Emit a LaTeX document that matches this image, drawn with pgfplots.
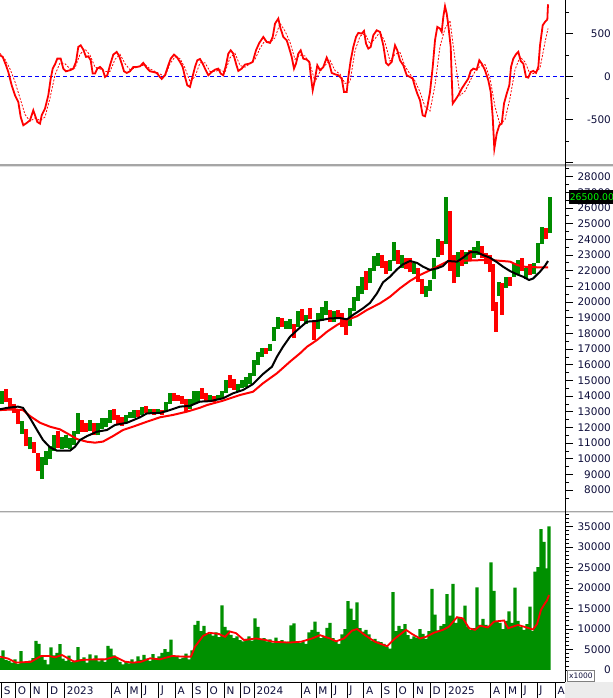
\documentclass[border=0pt]{standalone}
\usepackage{pgfplots}
\pgfplotsset{compat=1.18}
\usepackage{pgfplotstable}
\usepackage{fontspec}
\setmainfont{DejaVu Sans}
\definecolor{cgreen}{RGB}{0,140,0}
\definecolor{vgreen}{RGB}{0,144,0}
\definecolor{cred}{RGB}{255,0,0}
\definecolor{lab}{RGB}{15,15,60}
\definecolor{lime}{RGB}{0,255,0}

\pgfplotstableread{
x lo hi
2 13500 14300
22 11600 12400
30 10600 11400
42 8700 10100
46 9600 10500
50 10000 10800
54 10500 11500
62 10600 11400
66 10700 11500
70 10600 11300
74 10900 11800
78 11600 12900
90 11800 12500
98 11500 12300
102 11900 12600
106 12000 12600
110 12300 13100
126 12300 12800
130 12600 13000
134 12600 13100
142 12800 13300
150 12900 13200
158 12900 13200
166 13000 13600
170 13500 14200
190 13200 13800
194 13500 14300
198 13600 14300
210 13700 14100
218 13800 14100
222 13800 14300
226 14200 15000
238 14300 14800
242 14500 15000
246 14600 15200
250 14800 15500
254 15300 16300
258 16000 16800
262 16500 17100
270 16900 17300
274 17500 18400
278 18300 19050
286 18300 18800
290 18300 18900
298 18400 19400
306 18600 19200
318 18300 19300
322 18800 19700
326 19200 20100
334 18700 19400
350 18500 19600
354 19400 20300
358 20100 21000
362 20500 21600
370 21200 22200
374 22000 22950
378 22300 23100
390 22000 22700
394 22600 23850
402 22200 23000
414 21800 22500
426 20300 21000
430 20700 21400
434 21500 22800
438 22900 24000
446 23700 26700
458 21600 23200
466 22400 23200
474 22800 23500
478 23000 23900
499 20400 21300
506 20900 21600
514 21600 22400
518 21800 22700
526 21500 22200
534 21800 22500
538 22500 23800
542 23700 24800
550 24400 26700
}\greenc

\pgfplotstableread{
x lo hi
6 13600 14450
10 13200 13900
14 12900 13500
18 12200 13100
26 10800 11900
34 10400 11100
38 9200 10400
58 10700 11800
82 11700 12500
86 11700 12300
94 11500 12300
114 12500 13200
118 12200 12800
122 12100 12700
138 12700 13100
146 12900 13400
154 12800 13200
162 12800 13100
174 13700 14200
178 13700 14100
182 13500 14000
186 13000 13800
202 13800 14500
206 13700 14200
214 13600 14000
230 14500 15350
234 14400 15100
266 16700 17100
282 18400 19000
294 17700 18600
302 18800 19550
310 18900 19600
314 17600 18700
330 18700 19500
338 18900 19500
342 18400 19300
346 17900 18800
366 20800 22000
382 22200 23000
386 21800 22600
398 22400 23300
406 22100 22800
410 21900 22800
418 21300 22200
422 20500 21500
442 23000 23900
450 22000 25800
454 21200 23000
462 22300 23300
470 22600 23300
482 22800 23600
486 22400 23100
490 21900 23000
493 19400 22400
496 18100 20000
502 19200 21200
510 21000 21600
522 22000 22800
530 21700 22400
546 24000 24700
}\redc

\pgfplotstableread{
x y
0 13160
7 13250
18 13330
23 13250
30 12600
37 11840
43 11200
50 10730
57 10520
70 10520
75 10770
80 11200
87 11450
97 11730
107 11840
115 12160
127 12300
140 12650
147 12900
160 12930
167 13050
180 13330
190 13380
200 13650
210 13680
223 13860
233 14180
243 14390
253 14770
263 15410
272 15880
277 16520
283 17150
290 17790
298 18260
307 18750
317 18800
330 18960
340 18980
347 18900
353 19180
363 19600
370 19950
377 20560
383 21260
390 21620
397 22090
403 22410
410 22620
417 22500
423 22260
430 22050
437 22150
443 22300
448 22620
457 22580
463 22830
470 23180
477 23180
483 23000
490 22830
497 22540
503 22260
510 21980
517 21770
523 21620
529 21410
533 21500
540 21940
545 22320
548 22620
}\maA

\pgfplotstableread{
x y
0 13110
13 13150
23 13110
30 12730
40 12300
50 12050
60 11880
70 11520
77 11260
87 11090
95 11030
103 11100
113 11450
123 11840
133 12050
147 12370
160 12650
173 12800
187 13010
200 13260
207 13430
223 13710
240 14070
253 14280
263 14820
277 15460
290 16200
300 16730
307 17150
317 17580
327 18110
337 18540
347 18860
357 19100
367 19500
380 19920
390 20340
400 20880
410 21350
420 21730
427 21940
437 22260
447 22580
457 22620
470 22650
483 22680
490 22700
497 22650
510 22580
517 22370
523 22260
537 22220
548 22220
}\maB

\pgfplotstableread{
x y
0 248
2.7 229
6 132
8.3 54
11.7 -101
15 -217
18.3 -295
20.7 -469
23.3 -566
26.7 -539
30 -508
33.3 -392
35 -450
37.3 -527
40 -547
41.7 -450
45 -372
48.3 -217
50.7 -23
52.7 93
55 143
57.3 209
60.7 209
63.3 93
66 62
70 74
73.3 93
76 171
78.3 345
80.7 364
83.3 314
86 229
88.3 236
90.7 190
92.7 35
95 35
97.3 93
100 112
102.7 81
105 -4
107.3 16
110 132
113.3 256
116.7 287
119.3 236
121.7 151
124 62
126.7 43
130 62
133.3 112
136.7 112
140 120
143.3 159
146.7 101
150 62
153.3 54
156.7 43
159.3 4
161.7 -27
165 16
168.3 132
170.7 209
174 256
176.7 229
180 171
182.7 112
185 -4
187.3 -101
190 -120
192.3 -12
195 112
197.3 190
200 205
202.7 151
205 93
208.3 16
211.7 54
215 81
218.3 93
220.7 35
223.3 16
226 132
228.3 267
230.7 306
233.3 267
236 151
238.3 66
241.7 93
245 140
249.3 151
252.7 171
256 306
259.3 392
263.3 461
266.7 403
270 392
272.7 461
275 616
278.3 675
280.5 560
281.7 520
283.3 461
286.7 423
289.3 326
291.7 229
294 93
296 151
298.3 267
300.7 306
303.3 209
306.7 198
309.3 171
310.7 16
312.7 -159
315 -23
317.3 132
320 74
323.3 112
326.7 221
329.3 151
331.7 43
335 27
338.3 16
341.7 -23
344 -178
346.7 -178
348.3 -4
350.7 190
353.3 345
356 461
358.3 508
361.7 500
364 531
366 384
368.3 326
370.7 345
373.3 481
376.7 539
380 520
383.3 364
386 159
388.3 132
391.7 171
395 364
397.3 306
400 190
403.3 132
406.7 16
410 -4
412.7 -23
415 -120
417.3 -198
420 -275
422.7 -450
425 -461
427.3 -353
430 -178
432.7 112
435 423
437.3 578
440 558
441.7 520
443.3 694
445 818
446.7 733
448.3 597
450.7 345
451.7 -4
452.7 -314
455 -275
458.3 -217
461.7 -140
465 -81
468.3 -23
470.7 66
473.3 93
476.7 81
479.3 190
481.7 151
485 74
488.3 -43
490.7 -178
492.7 -469
494.3 -837
496.7 -663
499.3 -566
501.7 -547
504 -314
506.7 -198
509.3 -101
511 112
513.3 209
516 260
518.3 287
520.7 182
523.3 151
526 -4
528.3 -12
530.7 54
533.3 66
536 43
538.3 112
540 364
542.7 597
545 636
547.3 663
548 841
}\macd

\pgfplotstableread{
x y
0 270
5 200
10 90
15 -60
20 -250
25 -440
30 -520
35 -480
40 -510
45 -470
50 -250
55 20
60 160
65 150
70 90
75 100
80 260
85 320
90 250
95 110
100 90
105 60
110 60
115 200
120 260
125 150
130 80
135 100
140 120
145 140
150 90
155 60
160 30
165 0
170 150
175 230
180 210
185 100
190 -60
195 0
200 160
205 160
210 60
215 60
220 80
225 50
230 220
235 270
240 130
245 110
250 150
255 200
260 330
265 420
270 400
275 450
280 620
285 530
290 400
295 200
300 250
305 240
310 150
315 -60
320 60
325 130
330 190
335 70
340 30
345 -80
350 -60
355 300
360 470
365 500
370 380
375 440
380 520
385 400
390 180
395 260
400 280
405 120
410 30
415 -50
420 -180
425 -350
430 -400
435 -100
440 350
445 560
450 650
455 200
460 -220
465 -170
470 -50
475 60
480 120
485 140
490 -20
495 -350
500 -560
505 -500
510 -250
515 80
520 230
525 170
530 30
535 40
540 100
545 400
548 560
}\signal

\pgfplotstableread{
x y
0 3000
3 4800
6 2500
9 2200
12 1800
15 2600
18 1500
21 4600
24 2000
27 1700
30 2300
33 2900
36 7100
39 6400
42 3300
45 2500
48 1400
51 5500
54 3600
57 4200
60 6300
63 2800
66 2200
69 3500
72 1900
75 2300
78 5600
81 2600
84 3100
87 1800
90 3800
93 2400
96 3600
99 2100
102 2700
105 2000
108 5900
111 5200
114 3600
117 2900
120 2000
123 1400
126 1900
129 1600
132 2600
135 1800
138 3300
141 2500
144 3700
147 2800
150 2200
153 3900
156 2700
159 3300
162 4200
165 5100
168 4400
171 7400
174 3600
177 3200
180 2700
183 3000
186 4000
189 2600
192 4800
195 11000
198 12000
201 9500
204 10800
207 9000
210 8800
213 8400
216 9200
219 8000
222 15800
225 10500
228 9700
231 8600
234 7800
237 8200
240 7300
243 7000
246 7600
249 8200
252 7200
255 12600
258 10500
261 7400
264 7800
267 7000
270 7500
273 6600
276 7900
279 6800
282 7300
285 6600
288 6900
291 10900
294 11400
297 7000
300 6600
303 6900
306 6400
309 9200
312 9800
315 11800
318 9300
321 7800
324 8200
327 10300
330 11500
333 7800
336 7000
339 6400
342 8700
345 10000
348 16800
351 15000
354 12200
357 16500
360 10200
363 9400
366 9800
369 8700
372 7200
375 7600
378 7000
381 6800
384 6400
387 5700
390 5200
393 19000
396 9500
399 10800
402 10000
405 11200
408 8500
411 7600
414 8200
417 7800
420 10000
423 8800
426 7600
429 9500
432 19800
435 13500
438 9700
441 10800
444 11200
447 18500
450 13300
453 21000
456 11500
459 12800
462 12500
465 15700
468 10500
471 9800
474 10200
477 20200
480 11000
483 12500
486 11000
489 10500
491 26300
494 19300
497 12000
500 11500
503 10000
506 12000
509 14300
512 11500
515 20100
518 12000
521 10500
524 9800
527 11200
530 15500
533 9500
535 24000
538 25100
541 34400
544 31300
547 24800
549 35100
}\vol

\pgfplotstableread{
x y
0 3260
8 2800
16 1800
31 2000
41 3420
49 3420
55 3100
62 3660
74 2040
82 2440
94 2600
105 2600
115 3260
125 2040
133 1800
141 2000
150 2850
160 2600
172 3420
184 3260
191 3260
195 5700
203 8300
209 9100
219 8800
225 8100
230 9400
236 9000
244 7300
256 7700
266 7300
273 6900
289 6700
301 6900
312 7700
320 8500
330 7700
336 7000
344 7700
352 9600
357 10000
365 8500
375 6900
387 5800
395 7700
406 9800
412 8800
420 7700
426 8100
434 9100
443 9800
449 10600
457 12900
463 12600
469 10200
475 9800
480 10800
488 10400
494 11800
504 12100
508 10200
518 11000
525 10500
533 9900
537 11200
541 14700
545 16300
547 17000
549 18300
}\volma

\pgfplotsset{panel/.style={
  scale only axis, width=565bp, xmin=0, xmax=565, anchor=south west,
  axis x line=none, axis y line*=right, scaled ticks=false,
  axis line style={black, line width=0.8bp},
  tick align=outside, major tick length=8bp, minor tick length=4bp,
  tick style={black, line width=0.8bp},
  yticklabel style={font=\fontsize{10.5}{12}\selectfont, text=lab, anchor=east, inner sep=0pt, xshift=38bp},
}}

\begin{document}
\begin{tikzpicture}[x=1bp,y=1bp]
\path[use as bounding box, fill=white] (0,0) rectangle (613,698);

% oscillator panel
\begin{axis}[panel, at={(0bp,534bp)}, height=164bp, ymin=-1016, ymax=891,
  ytick={-1000,-500,0,500}, yticklabels={,-500,0,500},
  minor ytick={-1000,-750,...,750}]
\addplot[blue, line width=1.1bp, dash pattern=on 4bp off 3bp] coordinates {(0,0) (565,0)};
\addplot[cred, line width=0.8bp, dash pattern=on 2bp off 1.5bp] table[x=x,y=y] {\signal};
\addplot[cred, line width=1.8bp] table[x=x,y=y] {\macd};
\end{axis}

% price panel
\begin{axis}[panel, at={(0bp,193bp)}, height=338bp, ymin=7054, ymax=28619,
  ytick={8000,9000,...,28000},
  yticklabels={8000,9000,10000,11000,12000,13000,14000,15000,16000,17000,18000,19000,20000,21000,22000,23000,24000,25000,26000,27000,28000},
  minor ytick={7500,8500,...,28500}]
\addplot[cgreen, line width=3.8bp, mark=none, quiver={u=0, v=\thisrow{hi}-\thisrow{lo}}]
  table[x=x, y=lo] {\greenc};
\addplot[cred, line width=3.8bp, mark=none, quiver={u=0, v=\thisrow{hi}-\thisrow{lo}}]
  table[x=x, y=lo] {\redc};
\addplot[cred, line width=2bp] table[x=x,y=y] {\maB};
\addplot[black, line width=2bp] table[x=x,y=y] {\maA};
\end{axis}

% volume panel
\begin{axis}[panel, at={(0bp,16.3bp)}, height=169bp, ymin=-2857, ymax=38410,
  ytick={0,5000,...,35000},
  yticklabels={0,5000,10000,15000,20000,25000,30000,35000},
  minor ytick={0,1000,...,38000}]
\addplot[ybar, bar width=3.2, bar shift=0pt, fill=vgreen, draw=none] table[x=x,y=y] {\vol};
\addplot[cred, line width=1.8bp] table[x=x,y=y] {\volma};
\end{axis}

% panel separators
\draw[gray!70, line width=1.6bp] (0,533) -- (613,533);
\draw[gray!25, line width=1bp] (0,531.6) -- (613,531.6);
\draw[gray!70, line width=1.6bp] (0,186.6) -- (613,186.6);
\draw[gray!25, line width=1bp] (0,185.2) -- (613,185.2);
\draw[black, line width=0.8bp] (565,16) -- (565,698);

% last price label
\fill[black] (569,493.7) rectangle (613,508);
\node[anchor=west, inner sep=0pt, text=lime, font=\fontsize{9.3}{11}\selectfont] at (569.6,500.8) {26500.00};

% x1000 box
\draw[gray, line width=0.6bp, fill=white] (567,16.3) rectangle (594.5,27.5);
\node[inner sep=0pt, text=lab, font=\fontsize{7.5}{8}\selectfont] at (580.8,21.9) {x1000};

% month row
\fill[gray!15] (565,0) rectangle (613,16);
\draw[black, line width=0.8bp] (0,16) -- (565,16);
\foreach \x/\l in {1.4/S,15.6/O,30.5/N,47.7/D,64.5/2023,111.5/A,127.1/M,141.6/J,158.4/J,175.2/A,192.4/S,207.3/O,224.1/N,240.5/D,254.2/2024,301.1/A,316/M,331.6/J,346.9/J,363.7/A,381.3/S,396.2/O,413.8/N,430.2/D,445.8/2025,490.8/A,505.7/M,521.3/J,537/J,555.3/A}{
  \draw[black, line width=0.8bp] (\x,0) -- (\x,16);
  \node[anchor=west, inner sep=0pt, text=lab, font=\fontsize{10.5}{12}\selectfont] at (\x+2.2,7.6) {\l};
}
\end{tikzpicture}
\end{document}
